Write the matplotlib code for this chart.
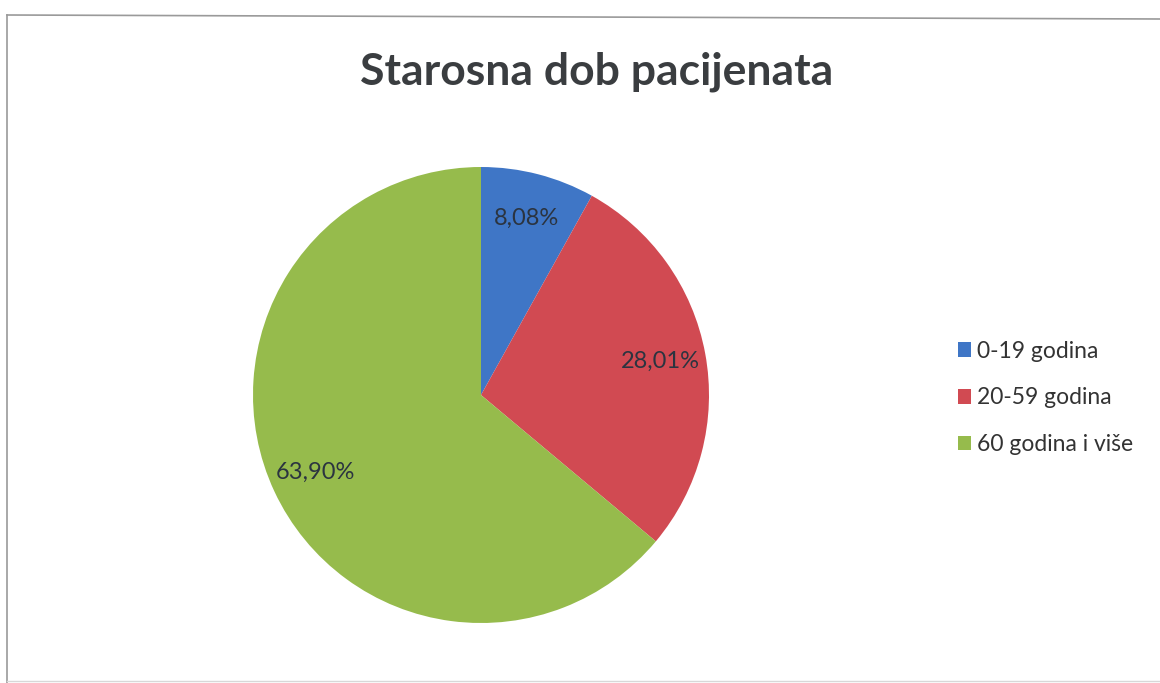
import matplotlib.pyplot as plt
from matplotlib.lines import Line2D

title = "Starosna dob pacijenata"
categories = ["0-19 godina", "20-59 godina", "60 godina i više"]
values = [8.08, 28.01, 63.90]
colors = ["#3f76c6", "#d14a52", "#96bb4c"]

plt.rcParams['font.family'] = ['Lato', 'DejaVu Sans']

W, H = 1160, 683
fig = plt.figure(figsize=(W / 100, H / 100), dpi=100)
fig.patch.set_facecolor('white')

# pie placement in pixels: centre (481, 395), radius 228
cx, cy, r = 481, 395, 228
ax = fig.add_axes([(cx - r) / W, 1 - (cy + r) / H, 2 * r / W, 2 * r / H])

pct_labels = iter([f"{v:.2f}".replace('.', ',') + '%' for v in values])
wedges, texts, autotexts = ax.pie(
    values, colors=colors, startangle=90, counterclock=False,
    autopct=lambda p: next(pct_labels), pctdistance=0.8,
    radius=1, textprops={'fontsize': 17, 'color': '#2b3440'})
ax.set_xlim(-1, 1)
ax.set_ylim(-1, 1)
ax.set_aspect('equal')
ax.axis('off')

fig.text(597 / W, 1 - 72 / H, title, ha='center', va='center',
         fontsize=32, fontweight='bold', color='#3a3d40')

leg = fig.legend(wedges, categories, loc='center left',
                 bbox_to_anchor=(937 / W, 1 - 398 / H), frameon=False,
                 fontsize=16.5, handlelength=0.6, handleheight=0.6,
                 handletextpad=0.25, labelspacing=1.12)
for t in leg.get_texts():
    t.set_color('#333333')

# chart frame
fig.add_artist(Line2D([7 / W, 7 / W], [0, 1 - 15 / H], color='#9a9a9a', lw=1.2))
fig.add_artist(Line2D([7 / W, 1], [1 - 15 / H, 1 - 19 / H], color='#9a9a9a', lw=1.2))
fig.add_artist(Line2D([7 / W, 1], [1 - 681 / H, 1 - 681 / H], color='#d8d8d8', lw=1))

fig.savefig('out.png', dpi=100)
